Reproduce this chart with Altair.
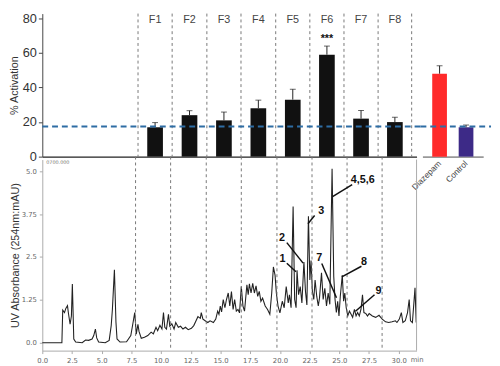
import altair as alt
import pandas as pd

# ---------------- data ----------------
fractions = ["F1", "F2", "F3", "F4", "F5", "F6", "F7", "F8"]
frac_bounds = [7.85, 10.8, 13.8, 16.75, 19.75, 22.7, 25.65, 28.6, 31.5]
frac_mean = [17, 24, 21, 28, 33, 59, 22, 20]
frac_err = [2.7, 2.6, 4.8, 4.7, 6.0, 5.0, 4.7, 2.8]
sig_fraction = "F6"
sig_label = "***"

ref_names = ["Diazepam", "Control"]
ref_mean = [48, 17]
ref_err = [4.6, 1.3]
ref_colors = ["#ff2a2a", "#3d2a87"]

baseline_activation = 17.5

times = [0.0, 1.65, 1.72, 1.87, 1.98, 2.12, 2.2, 2.34, 2.45, 2.53, 2.65, 2.81, 3.36, 3.64, 3.9,
         4.19, 4.33, 4.47, 4.58, 4.74, 5.3, 5.63, 5.8, 5.9, 6.07, 6.2, 6.29, 6.54, 7.09, 7.45,
         7.64, 7.78, 7.91, 8.05, 8.14, 8.33, 8.6, 8.88, 9.16, 9.35, 9.57, 9.71, 9.9, 10.07, 10.2,
         10.31, 10.45, 10.62, 10.73, 10.9, 11.09, 11.23, 11.45, 11.64, 11.84, 12.05, 12.28, 12.55,
         12.75, 12.94, 13.1, 13.3, 13.38, 13.52, 13.71, 13.93, 14.12, 14.4, 14.6, 14.76, 14.87,
         14.98, 15.09, 15.23, 15.37, 15.5, 15.65, 15.78, 15.92, 16.06, 16.19, 16.33, 16.47, 16.6,
         16.75, 16.89, 17.02, 17.22, 17.33, 17.43, 17.57, 17.71, 17.85, 17.99, 18.13, 18.26, 18.4,
         18.54, 18.76, 18.96, 19.15, 19.31, 19.45, 19.59, 19.7, 19.84, 20.0, 20.2, 20.36, 20.53,
         20.7, 20.8, 20.94, 21.11, 21.24, 21.36, 21.44, 21.57, 21.71, 21.85, 22.02, 22.15, 22.27,
         22.4, 22.52, 22.62, 22.73, 22.85, 22.96, 23.1, 23.23, 23.33, 23.5, 23.64, 23.78, 23.92,
         24.06, 24.2, 24.39, 24.53, 24.64, 24.75, 24.86, 24.97, 25.08, 25.25, 25.36, 25.46, 25.58,
         25.71, 25.85, 25.99, 26.12, 26.27, 26.41, 26.54, 26.68, 26.82, 26.95, 27.07, 27.24, 27.37,
         27.51, 27.78, 28.06, 28.34, 28.61, 28.89, 29.16, 29.44, 29.72, 29.85, 30.05, 30.22, 30.35,
         30.55, 30.74, 30.88, 30.99, 31.15, 31.37, 31.47]
absorbance = [0.0, 0.0, 0.95, 0.88, 1.0, 1.08, 0.86, 0.54, 0.78, 1.71, 0.11, 0.02, 0.0, 0.08, 0.07,
              0.11, 0.21, 0.4, 0.14, 0.02, 0.0, 0.07, 0.5, 0.97, 2.13, 0.6, 0.11, 0.02, 0.03, 0.21,
              0.59, 0.88, 0.25, 0.54, 0.33, 0.13, 0.16, 0.21, 0.31, 0.26, 0.45, 0.35, 0.51, 0.4, 0.88,
              0.45, 0.4, 0.83, 0.48, 0.55, 0.4, 0.59, 0.45, 0.48, 0.4, 0.45, 0.38, 0.42,
              0.5, 0.64, 0.76, 0.71, 0.88, 0.69, 0.64, 0.59, 0.64, 0.59, 0.69, 0.92, 0.83,
              1.07, 0.9, 1.26, 1.02, 1.26, 1.45, 1.07, 1.49, 0.97, 1.26, 0.92, 0.97, 0.87,
              1.64, 1.07, 0.92, 1.69, 1.4, 1.72, 1.45, 1.73, 1.45, 1.66, 1.35, 1.5, 1.21,
              1.3, 1.07, 0.97, 0.83, 1.45, 2.21, 1.97, 1.45, 1.07, 0.87, 1.21, 1.02, 1.64,
              1.16, 1.4, 1.02, 3.97, 1.26, 1.02, 2.11, 1.4, 1.64, 1.16, 2.35, 1.5, 1.1,
              3.69, 1.83, 2.4, 1.5, 1.26, 1.83, 1.35, 1.07, 1.3, 2.04, 1.26, 1.59, 1.07,
              1.45, 1.12, 5.07, 1.93, 1.26, 0.88, 1.21, 0.78, 1.35, 1.97, 1.21, 1.45, 1.02,
              0.78, 0.92, 0.83, 0.74, 0.97, 0.78, 0.88, 0.78, 0.97, 1.4, 0.88, 0.85, 0.78,
              0.85, 0.78, 0.74, 0.8, 0.69, 0.61, 0.59, 0.61, 0.64, 0.59, 0.69, 0.88, 0.59,
              0.64, 0.88, 1.26, 0.64, 0.59, 1.6, 0.59]

ann_labels = ["4,5,6", "3", "2", "1", "7", "8", "9"]
ann_text_t = [26.97, 23.47, 20.17, 20.22, 23.3, 27.07, 28.29]
ann_text_v = [4.74, 3.85, 3.05, 2.44, 2.48, 2.35, 1.52]
ann_from_t = [26.08, 22.92, 20.58, 20.58, 23.52, 26.86, 27.96]
ann_from_v = [4.61, 3.71, 2.92, 2.32, 2.31, 2.23, 1.4]
ann_to_t = [24.43, 22.36, 21.95, 21.35, 24.76, 25.21, 26.36]
ann_to_v = [4.26, 3.47, 2.32, 2.07, 1.31, 1.92, 0.92]

x_ticks = [0, 2.5, 5, 7.5, 10, 12.5, 15, 17.5, 20, 22.5, 25, 27.5, 30]
uv_ticks = [0, 1.25, 2.5, 3.75, 5]
act_ticks = [0, 20, 40, 60, 80]

# ---------------- geometry ----------------
top_w, top_h = 382, 146
ref_w = 62
bot_w, bot_h = 382, 195
x_dom = [0, 31.5]
act_dom = [0, 82.8]
uv_dom = [-0.23, 5.34]

LABEL_FONT = "Liberation Sans"
SMALL_FONT = "DejaVu Sans"

centers = [(frac_bounds[i] + frac_bounds[i + 1]) / 2 for i in range(len(fractions))]
frac_df = pd.DataFrame({
    "fraction": fractions,
    "center": centers,
    "mean": frac_mean,
    "upper": [m + e for m, e in zip(frac_mean, frac_err)],
})
bounds_df = pd.DataFrame({"b": frac_bounds})
inner_bounds_df = pd.DataFrame({"b": frac_bounds[:-1]})
ref_df = pd.DataFrame({
    "name": ref_names,
    "mean": ref_mean,
    "upper": [m + e for m, e in zip(ref_mean, ref_err)],
})
chrom_df = pd.DataFrame({"t": times, "a": absorbance})
ann_df = pd.DataFrame({
    "label": ann_labels, "tt": ann_text_t, "tv": ann_text_v,
    "ft": ann_from_t, "fv": ann_from_v, "et": ann_to_t, "ev": ann_to_v,
})

xs_top = alt.Scale(domain=x_dom, nice=False, zero=False)
ys_act = alt.Scale(domain=act_dom, nice=False)

act_axis = alt.Axis(values=act_ticks, tickCount=5, title="% Activation", grid=False,
                    labelOverlap=False, labelFlush=False,
                    labelFont=LABEL_FONT, labelFontSize=13, labelColor="#333",
                    titleFont=LABEL_FONT, titleFontSize=11, titleFontWeight="normal",
                    titleColor="#333", titlePadding=3, tickSize=4, tickColor="#444",
                    domainColor="#444", labelPadding=2)
top_x_axis = alt.Axis(labels=False, ticks=False, title=None, domainColor="#222",
                      domainWidth=1.2, grid=False)

# ---------------- top-left: fractions ----------------
base_top = alt.Chart(frac_df)

bars = base_top.mark_bar(color="#111111", width=16).encode(
    x=alt.X("center:Q", scale=xs_top, axis=top_x_axis),
    y=alt.Y("mean:Q", scale=ys_act, axis=act_axis),
)
vlines_top = alt.Chart(bounds_df).mark_rule(color="#777", strokeDash=[3, 3], strokeWidth=1).encode(
    x=alt.X("b:Q", scale=xs_top, axis=top_x_axis),
    y=alt.value(0), y2=alt.value(top_h),
)
err = base_top.mark_rule(color="#222", strokeWidth=1).encode(
    x=alt.X("center:Q", scale=xs_top, axis=top_x_axis),
    y=alt.Y("mean:Q", scale=ys_act, axis=act_axis), y2="upper:Q")
caps = base_top.mark_tick(color="#222", orient="horizontal", size=6, thickness=1).encode(
    x=alt.X("center:Q", scale=xs_top, axis=top_x_axis),
    y=alt.Y("upper:Q", scale=ys_act, axis=act_axis))
hline_top = alt.Chart(pd.DataFrame({"v": [baseline_activation]})).mark_rule(
    color="#2e6da4", strokeDash=[6, 4], strokeWidth=2).encode(
    y=alt.Y("v:Q", scale=ys_act, axis=act_axis), x=alt.value(0), x2=alt.value(top_w + 8))
flabels = base_top.mark_text(font=LABEL_FONT, fontSize=11, color="#444").encode(
    x=alt.X("center:Q", scale=xs_top, axis=top_x_axis), y=alt.value(7), text="fraction:N")
stars = alt.Chart(frac_df[frac_df["fraction"] == sig_fraction]).mark_text(
    font=LABEL_FONT, fontSize=11, fontWeight="bold", color="#111", dy=-7).encode(
    x=alt.X("center:Q", scale=xs_top, axis=top_x_axis),
    y=alt.Y("upper:Q", scale=ys_act, axis=act_axis), text=alt.value(sig_label))

top_left = alt.layer(bars, vlines_top, err, caps, hline_top, flabels, stars).properties(
    width=top_w, height=top_h)

# ---------------- top-right: references ----------------
xs_ref = alt.Scale(domain=ref_names, paddingInner=0.444, paddingOuter=0.37)
ref_x_axis = alt.Axis(title=None, ticks=False, labelAngle=315, labelAlign="right",
                      labelBaseline="middle", labelFont=LABEL_FONT, labelFontSize=8.5,
                      labelColor="#444", labelPadding=5, domainColor="#999", domainWidth=2)
ref_base = alt.Chart(ref_df)
ref_bars = ref_base.mark_bar().encode(
    x=alt.X("name:N", scale=xs_ref, sort=ref_names, axis=ref_x_axis),
    y=alt.Y("mean:Q", scale=ys_act, axis=None),
    color=alt.Color("name:N", scale=alt.Scale(domain=ref_names, range=ref_colors), legend=None),
)
ref_err_l = ref_base.mark_rule(color="#222", strokeWidth=1).encode(
    x=alt.X("name:N", scale=xs_ref, sort=ref_names, axis=ref_x_axis),
    y=alt.Y("mean:Q", scale=ys_act, axis=None), y2="upper:Q")
ref_caps = ref_base.mark_tick(color="#222", orient="horizontal", size=6, thickness=1).encode(
    x=alt.X("name:N", scale=xs_ref, sort=ref_names, axis=ref_x_axis),
    y=alt.Y("upper:Q", scale=ys_act, axis=None))
hline_ref = alt.Chart(pd.DataFrame({"v": [baseline_activation]})).mark_rule(
    color="#2e6da4", strokeDash=[6, 4], strokeWidth=2).encode(
    y=alt.Y("v:Q", scale=ys_act, axis=None), x=alt.value(-2), x2=alt.value(ref_w + 8))

top_right = alt.layer(ref_bars, ref_err_l, ref_caps, hline_ref).properties(
    width=ref_w, height=top_h)

# ---------------- bottom: chromatogram ----------------
xs_bot = alt.Scale(domain=x_dom, nice=False, zero=False)
ys_uv = alt.Scale(domain=uv_dom, nice=False, zero=False)

bot_x_axis = alt.Axis(values=x_ticks, labelExpr="format(datum.value, '.1f')", title=None,
                      grid=False, labelFont=SMALL_FONT, labelFontSize=7, labelColor="#666",
                      labelOverlap=False, labelFlush=False,
                      tickSize=3, tickColor="#aaa", domainColor="#aaa", labelPadding=3)
bot_y_axis = alt.Axis(values=uv_ticks,
                      labelExpr="datum.value % 1 == 0 ? format(datum.value, '.1f') : toString(datum.value)",
                      title="UV Absorbance (254nm:mAU)", grid=False,
                      labelOverlap=False, labelFlush=False,
                      labelFont=SMALL_FONT, labelFontSize=7, labelColor="#666",
                      titleFont=LABEL_FONT, titleFontSize=11, titleFontWeight="normal",
                      titleColor="#333", titlePadding=1, tickSize=3, tickColor="#aaa",
                      domainColor="#aaa", labelPadding=3)

trace = alt.Chart(chrom_df).mark_line(color="#222", strokeWidth=1.1).encode(
    x=alt.X("t:Q", scale=xs_bot, axis=bot_x_axis),
    y=alt.Y("a:Q", scale=ys_uv, axis=bot_y_axis),
)
vlines_bot = alt.Chart(inner_bounds_df).mark_rule(color="#777", strokeDash=[3, 3], strokeWidth=1).encode(
    x=alt.X("b:Q", scale=xs_bot, axis=bot_x_axis), y=alt.value(-3), y2=alt.value(bot_h))
right_frame = alt.Chart(pd.DataFrame({"b": [x_dom[1]]})).mark_rule(color="#aaa", strokeWidth=1).encode(
    x=alt.X("b:Q", scale=xs_bot, axis=bot_x_axis), y=alt.value(0), y2=alt.value(bot_h))

ann_lines = alt.Chart(ann_df).mark_rule(color="#111", strokeWidth=1.5).encode(
    x=alt.X("ft:Q", scale=xs_bot, axis=bot_x_axis), y=alt.Y("fv:Q", scale=ys_uv, axis=bot_y_axis),
    x2="et:Q", y2="ev:Q")
ann_text = alt.Chart(ann_df).mark_text(font=LABEL_FONT, fontSize=11, fontWeight="bold",
                                       color="#111").encode(
    x=alt.X("tt:Q", scale=xs_bot, axis=bot_x_axis), y=alt.Y("tv:Q", scale=ys_uv, axis=bot_y_axis),
    text="label:N")

min_label = alt.Chart(pd.DataFrame({"s": ["min"]})).mark_text(
    font=SMALL_FONT, fontSize=7, color="#666", align="left", baseline="top").encode(
    x=alt.value(bot_w - 6), y=alt.value(bot_h + 6), text="s:N")
stamp = alt.Chart(pd.DataFrame({"s": ["0700.000"]})).mark_text(
    font=SMALL_FONT, fontSize=5, color="#777", align="left", baseline="top").encode(
    x=alt.value(4), y=alt.value(1), text="s:N")

bottom = alt.layer(trace, vlines_bot, right_frame, ann_lines, ann_text, min_label, stamp).properties(
    width=bot_w, height=bot_h)

chart = alt.concat(top_left, top_right, bottom, columns=2,
                   spacing={"row": 3, "column": 6}, bounds="flush").resolve_scale(
    color="independent"
).configure_view(stroke=None).properties(padding={"left": 0, "top": 0, "right": 0, "bottom": 0})

chart.save("out.html", embed_options={"renderer": "svg", "actions": False})
